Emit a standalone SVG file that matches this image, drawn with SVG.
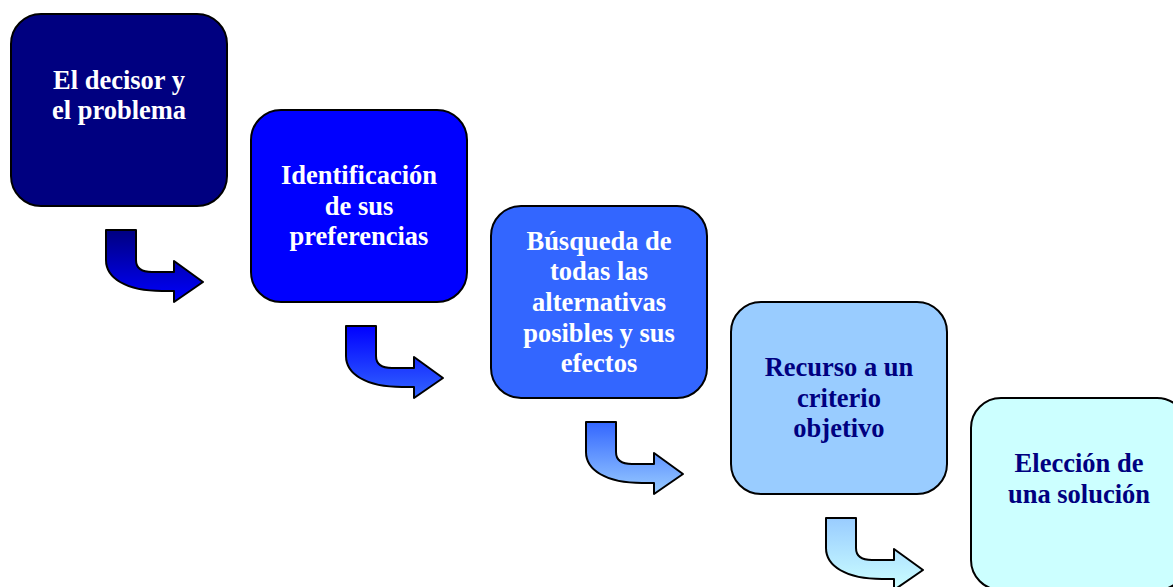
<svg xmlns="http://www.w3.org/2000/svg" width="1173" height="587" viewBox="0 0 1173 587">
<defs>
<style>
.box{stroke:#000;stroke-width:2}
.arr{stroke:#000;stroke-width:2;stroke-linejoin:round}
.t{font-family:"Liberation Serif","Times New Roman",serif;font-weight:bold;font-size:26.5px;text-anchor:middle}
.w{fill:#fff}
.n{fill:#000080}
</style>
<linearGradient id="g1" x1="0" y1="0" x2="0" y2="1"><stop offset="0" stop-color="#000080"/><stop offset="1" stop-color="#0000ff"/></linearGradient>
<linearGradient id="g2" x1="0" y1="0" x2="0" y2="1"><stop offset="0" stop-color="#0000ff"/><stop offset="1" stop-color="#3366ff"/></linearGradient>
<linearGradient id="g3" x1="0" y1="0" x2="0" y2="1"><stop offset="0" stop-color="#3366ff"/><stop offset="1" stop-color="#99ccff"/></linearGradient>
<linearGradient id="g4" x1="0" y1="0" x2="0" y2="1"><stop offset="0" stop-color="#99ccff"/><stop offset="1" stop-color="#ccffff"/></linearGradient>
<path id="bent" d="M0,0 H30 V30 Q30,42 46,42 H68 V31 L97,52 L68,72 V61 H56 C20,61 0,48 0,30 Z"/>
</defs>
<rect width="1173" height="587" fill="#fff"/>
<g id="connectors">
<use href="#bent" x="106" y="230" class="arr" fill="url(#g1)"/>
<use href="#bent" x="346" y="326" class="arr" fill="url(#g2)"/>
<use href="#bent" x="586" y="422" class="arr" fill="url(#g3)"/>
<use href="#bent" x="826" y="518" class="arr" fill="url(#g4)"/>
</g>
<g id="n1">
<rect class="box" x="11" y="14" width="216" height="192" rx="30" fill="#000080"/>
<text class="t w" x="119" y="89">El decisor y</text>
<text class="t w" x="119" y="119">el problema</text>
</g>
<g id="n2">
<rect class="box" x="251" y="110" width="216" height="192" rx="30" fill="#0000ff"/>
<text class="t w" x="359" y="184">Identificación</text>
<text class="t w" x="359" y="215">de sus</text>
<text class="t w" x="359" y="245">preferencias</text>
</g>
<g id="n3">
<rect class="box" x="491" y="206" width="216" height="192" rx="30" fill="#3366ff"/>
<text class="t w" x="599" y="250">Búsqueda de</text>
<text class="t w" x="599" y="280">todas las</text>
<text class="t w" x="599" y="311">alternativas</text>
<text class="t w" x="599" y="342">posibles y sus</text>
<text class="t w" x="599" y="372">efectos</text>
</g>
<g id="n4">
<rect class="box" x="731" y="302" width="216" height="192" rx="30" fill="#99ccff"/>
<text class="t n" x="839" y="376">Recurso a un</text>
<text class="t n" x="839" y="407">criterio</text>
<text class="t n" x="839" y="437">objetivo</text>
</g>
<g id="n5">
<rect class="box" x="971" y="398" width="216" height="192" rx="30" fill="#ccffff"/>
<text class="t n" x="1079" y="472">Elección de</text>
<text class="t n" x="1079" y="503">una solución</text>
</g>
</svg>
